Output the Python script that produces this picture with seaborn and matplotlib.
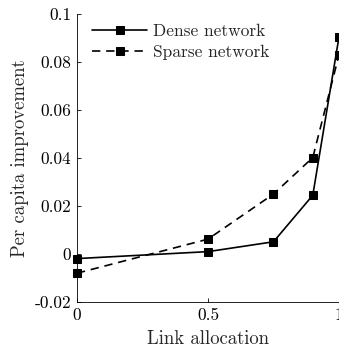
import matplotlib
matplotlib.use("Agg")
import matplotlib.pyplot as plt
import seaborn as sns
import pandas as pd

allocation = [0.0, 0.5, 0.75, 0.9, 1.0]
dense = [-0.0019, 0.0010, 0.0051, 0.0245, 0.0905]
sparse = [-0.0080, 0.0062, 0.0250, 0.0402, 0.0830]
xticks = [0, 0.5, 1]
xticklabels = ["0", "0.5", "1"]
yticks = [-0.02, 0, 0.02, 0.04, 0.06, 0.08, 0.1]
yticklabels = ["-0.02", "0", "0.02", "0.04", "0.06", "0.08", "0.1"]

sns.set_style("ticks")
plt.rcParams["font.family"] = ["cmr10", "DejaVu Serif"]
plt.rcParams["axes.unicode_minus"] = False
plt.rcParams["axes.formatter.use_mathtext"] = True

fig = plt.figure(figsize=(3.39, 3.52), dpi=100)
ax = fig.add_axes([0.227, 0.142, 0.773, 0.818])

df_d = pd.DataFrame({"x": allocation, "y": dense})
df_s = pd.DataFrame({"x": allocation, "y": sparse})
sns.lineplot(data=df_d, x="x", y="y", ax=ax, color="black", marker="s",
             markersize=6, linewidth=1.2, linestyle="-", label="Dense network",
             markeredgecolor="black", clip_on=False)
sns.lineplot(data=df_s, x="x", y="y", ax=ax, color="black", marker="s",
             markersize=6, linewidth=1.2, linestyle=(0, (5, 3.5)), label="Sparse network",
             markeredgecolor="black", clip_on=False)

ax.set_xlim(0, 1)
ax.set_ylim(-0.02, 0.1)
ax.set_xticks(xticks)
ax.set_xticklabels(xticklabels)
ax.set_yticks(yticks)
ax.set_yticklabels(yticklabels)
ax.tick_params(direction="in", length=3, width=0.6, labelsize=12.5, colors="black", pad=4)
for s in ["top", "right"]:
    ax.spines[s].set_visible(False)
for s in ["left", "bottom"]:
    ax.spines[s].set_linewidth(0.6)
    ax.spines[s].set_color("black")
ax.set_xlabel("Link allocation", fontsize=13.5, labelpad=5)
ax.set_ylabel("Per capita improvement", fontsize=13.5, labelpad=4)
leg = ax.legend(loc="upper left", frameon=False, fontsize=12.5, handlelength=3.2,
                handletextpad=0.3, borderaxespad=0.0, labelspacing=0.3,
                bbox_to_anchor=(0.03, 0.99))
fig.savefig("out.png", dpi=100)
